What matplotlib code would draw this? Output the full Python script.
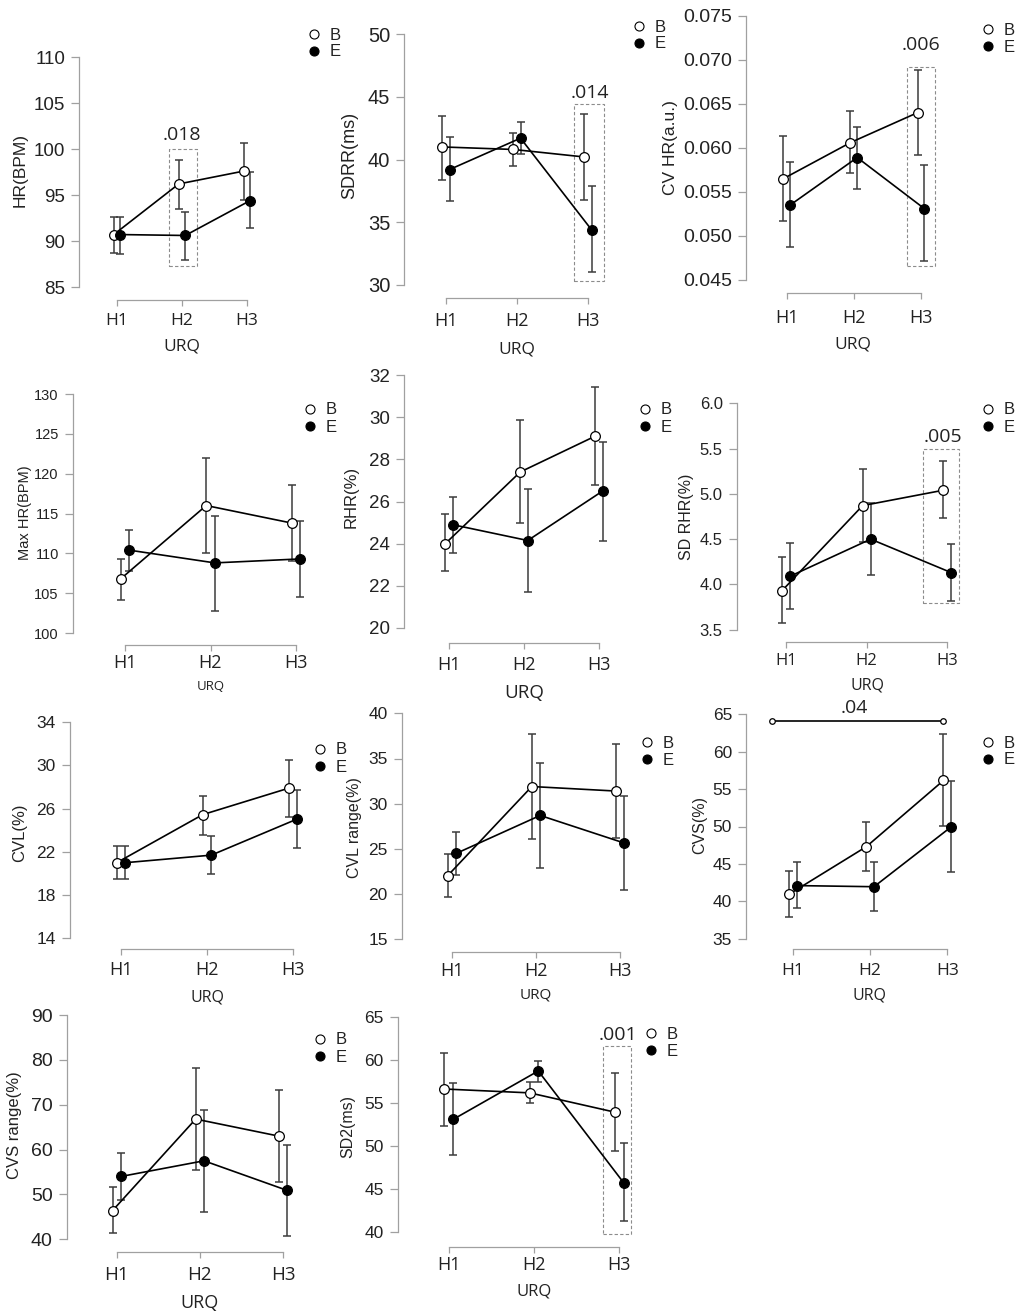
import matplotlib.pyplot as plt
from matplotlib.lines import Line2D
from matplotlib.patches import Rectangle

W, H = 1015, 1311
fig = plt.figure(figsize=(W / 100, H / 100), dpi=100)

phases = ['H1', 'H2', 'H3']

# HR
hr_b = [90.7, 96.2, 97.6]
hr_b_lo = [88.7, 93.5, 94.5]
hr_b_hi = [92.6, 98.8, 100.7]
hr_e = [90.7, 90.6, 94.4]
hr_e_lo = [88.6, 87.9, 91.4]
hr_e_hi = [92.6, 93.2, 97.5]

# SDRR
sdrr_b = [41.0, 40.8, 40.2]
sdrr_b_lo = [38.4, 39.5, 36.8]
sdrr_b_hi = [43.5, 42.1, 43.6]
sdrr_e = [39.2, 41.7, 34.4]
sdrr_e_lo = [36.7, 40.4, 31.0]
sdrr_e_hi = [41.8, 43.0, 37.9]

# CV HR
cvhr_b = [0.0565, 0.0606, 0.0640]
cvhr_b_lo = [0.0517, 0.0571, 0.0592]
cvhr_b_hi = [0.0614, 0.0642, 0.0688]
cvhr_e = [0.0535, 0.0589, 0.0531]
cvhr_e_lo = [0.0488, 0.0553, 0.0472]
cvhr_e_hi = [0.0584, 0.0624, 0.0581]

# Max HR
maxhr_b = [106.8, 116.0, 113.8]
maxhr_b_lo = [104.2, 110.0, 109.0]
maxhr_b_hi = [109.3, 122.0, 118.6]
maxhr_e = [110.4, 108.8, 109.3]
maxhr_e_lo = [107.8, 102.8, 104.5]
maxhr_e_hi = [112.9, 114.7, 114.0]

# RHR
rhr_b = [24.0, 27.4, 29.1]
rhr_b_lo = [22.7, 25.0, 26.8]
rhr_b_hi = [25.4, 29.85, 31.45]
rhr_e = [24.9, 24.15, 26.5]
rhr_e_lo = [23.55, 21.7, 24.15]
rhr_e_hi = [26.2, 26.6, 28.8]

# SD RHR
sdrhr_b = [3.93, 4.87, 5.04]
sdrhr_b_lo = [3.57, 4.47, 4.73]
sdrhr_b_hi = [4.30, 5.27, 5.36]
sdrhr_e = [4.09, 4.50, 4.13]
sdrhr_e_lo = [3.73, 4.10, 3.82]
sdrhr_e_hi = [4.46, 4.90, 4.45]

# CVL
cvl_b = [21.0, 25.45, 27.9]
cvl_b_lo = [19.5, 23.6, 25.2]
cvl_b_hi = [22.55, 27.2, 30.55]
cvl_e = [21.0, 21.7, 25.05]
cvl_e_lo = [19.5, 19.95, 22.4]
cvl_e_hi = [22.55, 23.5, 27.75]

# CVL range
cvlr_b = [22.05, 31.9, 31.4]
cvlr_b_lo = [19.65, 26.05, 26.2]
cvlr_b_hi = [24.45, 37.7, 36.65]
cvlr_e = [24.5, 28.7, 25.65]
cvlr_e_lo = [22.1, 22.9, 20.5]
cvlr_e_hi = [26.9, 34.55, 30.9]

# CVS
cvs_b = [40.95, 47.3, 56.15]
cvs_b_lo = [37.9, 44.0, 50.1]
cvs_b_hi = [44.05, 50.55, 62.3]
cvs_e = [42.1, 41.95, 49.95]
cvs_e_lo = [39.05, 38.7, 43.95]
cvs_e_hi = [45.2, 45.25, 56.1]

# CVS range
cvsr_b = [46.4, 66.8, 63.0]
cvsr_b_lo = [41.3, 55.45, 52.85]
cvsr_b_hi = [51.7, 78.2, 73.2]
cvsr_e = [54.0, 57.5, 50.9]
cvsr_e_lo = [48.7, 46.1, 40.75]
cvsr_e_hi = [59.25, 68.9, 61.1]

# SD2
sd2_b = [56.65, 56.2, 53.95]
sd2_b_lo = [52.4, 55.0, 49.4]
sd2_b_hi = [60.9, 57.5, 58.55]
sd2_e = [53.1, 58.75, 45.75]
sd2_e_lo = [49.0, 57.5, 41.25]
sd2_e_hi = [57.4, 59.95, 50.35]

panels = [
    dict(ylabel='HR(BPM)', yticks=[85, 90, 95, 100, 105, 110], fmt='%d',
         b=(hr_b, hr_b_lo, hr_b_hi), e=(hr_e, hr_e_lo, hr_e_hi)),
    dict(ylabel='SDRR(ms)', yticks=[30, 35, 40, 45, 50], fmt='%d',
         b=(sdrr_b, sdrr_b_lo, sdrr_b_hi), e=(sdrr_e, sdrr_e_lo, sdrr_e_hi)),
    dict(ylabel='CV HR(a.u.)', yticks=[0.045, 0.050, 0.055, 0.060, 0.065, 0.070, 0.075], fmt='%.3f',
         b=(cvhr_b, cvhr_b_lo, cvhr_b_hi), e=(cvhr_e, cvhr_e_lo, cvhr_e_hi)),
    dict(ylabel='Max HR(BPM)', yticks=[100, 105, 110, 115, 120, 125, 130], fmt='%d',
         b=(maxhr_b, maxhr_b_lo, maxhr_b_hi), e=(maxhr_e, maxhr_e_lo, maxhr_e_hi)),
    dict(ylabel='RHR(%)', yticks=[20, 22, 24, 26, 28, 30, 32], fmt='%d',
         b=(rhr_b, rhr_b_lo, rhr_b_hi), e=(rhr_e, rhr_e_lo, rhr_e_hi)),
    dict(ylabel='SD RHR(%)', yticks=[3.5, 4.0, 4.5, 5.0, 5.5, 6.0], fmt='%.1f',
         b=(sdrhr_b, sdrhr_b_lo, sdrhr_b_hi), e=(sdrhr_e, sdrhr_e_lo, sdrhr_e_hi)),
    dict(ylabel='CVL(%)', yticks=[14, 18, 22, 26, 30, 34], fmt='%d',
         b=(cvl_b, cvl_b_lo, cvl_b_hi), e=(cvl_e, cvl_e_lo, cvl_e_hi)),
    dict(ylabel='CVL range(%)', yticks=[15, 20, 25, 30, 35, 40], fmt='%d',
         b=(cvlr_b, cvlr_b_lo, cvlr_b_hi), e=(cvlr_e, cvlr_e_lo, cvlr_e_hi)),
    dict(ylabel='CVS(%)', yticks=[35, 40, 45, 50, 55, 60, 65], fmt='%d',
         b=(cvs_b, cvs_b_lo, cvs_b_hi), e=(cvs_e, cvs_e_lo, cvs_e_hi)),
    dict(ylabel='CVS range(%)', yticks=[40, 50, 60, 70, 80, 90], fmt='%d',
         b=(cvsr_b, cvsr_b_lo, cvsr_b_hi), e=(cvsr_e, cvsr_e_lo, cvsr_e_hi)),
    dict(ylabel='SD2(ms)', yticks=[40, 45, 50, 55, 60, 65], fmt='%d',
         b=(sd2_b, sd2_b_lo, sd2_b_hi), e=(sd2_e, sd2_e_lo, sd2_e_hi)),
]

# significance boxes: panel, x0, x1, y0, y1, label, label x, label y
boxes = [
    (0, 0.80, 1.23, 87.3, 100.0, '.018', 1.0, 101.5),
    (1, 1.80, 2.225, 30.35, 44.4, '.014', 2.03, 45.3),
    (2, 1.79, 2.21, 0.0466, 0.0692, '.006', 2.0, 0.0717),
    (5, 1.70, 2.14, 3.79, 5.49, '.005', 1.95, 5.63),
    (10, 1.81, 2.14, 39.73, 61.66, '.001', 1.98, 62.94),
]
# bracket in CVS panel
bracket = (8, -0.27, 1.94, 64.1, '.04', 0.80, 65.84)

# pixel layout: y-spine x, top tick y, bottom tick y,
# x-axis y, H1 x, H3 x
layout = [
    (79, 57, 287, 300, 117, 247),
    (404, 34, 285, 298, 446, 588),
    (746, 15.7, 280, 293, 786.7, 921),
    (72.7, 394, 633, 645, 125, 296),
    (404, 375, 628, 643, 449, 599),
    (736.7, 403.3, 629.7, 642, 786, 947.3),
    (69.7, 722.3, 938.3, 949, 121, 293),
    (401.7, 713.3, 939.3, 951.7, 452, 620),
    (746, 714.3, 938.7, 949, 793, 947.3),
    (66.7, 1015, 1239.3, 1251.7, 116.7, 283),
    (397.7, 1017.3, 1232, 1246.7, 448.7, 619.3),
]
# legend: marker x, B y, E y
legend_pos = [
    (314, 35, 52), (639, 26, 45), (988, 29, 49),
    (310, 409, 428), (645, 409, 428), (988, 409, 428),
    (320, 749, 768), (647, 742, 762), (988, 742, 761),
    (320, 1039, 1058), (651, 1033, 1053),
]
# ylabel (x, y), xtick label center y, URQ (x, y)
ylabel_pos = [(20, 170), (350, 155), (670, 148), (25, 513), (351, 497), (687, 517),
              (20, 833), (355, 828), (700, 825), (15, 1125), (348, 1127)]
xtick_y = [323, 323, 320, 665, 667, 663, 972, 973, 973, 1277, 1267]
urq_pos = [(182, 347), (517, 350), (853, 345), (211, 686), (524, 693), (867, 685),
           (207, 997), (536, 995), (870, 995), (200, 1303), (534, 1292)]
# font sizes: y ticks, x ticks, URQ, ylabel
sizes = [
    (13.5, 12.5, 12.5, 12.5), (14.5, 13, 12.5, 13), (14, 13, 12.5, 12.5),
    (10.5, 13, 9.5, 10.5), (13.5, 13, 13.5, 12), (12, 12, 11.5, 11.5),
    (12.5, 13, 11.5, 12), (12.5, 13, 11, 11.5), (12.5, 12.5, 11.5, 11.5),
    (14, 13.5, 13, 12), (12.5, 13, 12, 11.5),
]

YFONT = 'Liberation Sans'
XFONT = 'Open Sans'
GREY = '#a0a0a0'
TXT = '#222222'
dodge = 0.05


def fx(x):
    return x / W


def fy(y):
    return 1 - y / H


axes = []
for i, p in enumerate(panels):
    sx, yt, yb, xa, h1, h3 = layout[i]
    ys, xs, us, ls = sizes[i]
    u = 2 / (h3 - h1)
    right = h3 + 30
    ax = fig.add_axes([fx(sx), fy(yb), (right - sx) / W, (yb - yt) / H])
    ax.patch.set_visible(False)
    ax.set_xlim(-(h1 - sx) * u, 2 + 30 * u)
    ax.set_ylim(p['yticks'][0], p['yticks'][-1])

    for s in ['top', 'right']:
        ax.spines[s].set_visible(False)
    for s in ['left', 'bottom']:
        ax.spines[s].set_color(GREY)
        ax.spines[s].set_linewidth(0.9)
    ax.spines['bottom'].set_position(('outward', (xa - yb) * 0.72))
    ax.spines['bottom'].set_bounds(0, 2)
    ax.spines['left'].set_bounds(p['yticks'][0], p['yticks'][-1])

    ax.set_yticks(p['yticks'])
    ax.set_yticklabels([p['fmt'] % v for v in p['yticks']], fontfamily=YFONT)
    ax.tick_params(axis='y', length=6, width=0.9, color=GREY, pad=4,
                   labelsize=ys, labelcolor=TXT)

    xs_px = xs * 100 / 72
    xpad = (xtick_y[i] - xa - 5 - 0.62 * xs_px) * 0.72
    ax.set_xticks([0, 1, 2])
    ax.set_xticklabels(phases, fontfamily=XFONT)
    ax.tick_params(axis='x', length=4, width=0.9, color=GREY, pad=xpad,
                   labelsize=xs, labelcolor=TXT)

    x = [0, 1, 2]
    for key, off, face in [('b', -dodge, 'white'), ('e', dodge, 'black')]:
        m, lo, hi = p[key]
        xx = [v + off for v in x]
        ax.errorbar(xx, m, yerr=[[a - b for a, b in zip(m, lo)], [b - a for a, b in zip(m, hi)]],
                    fmt='none', ecolor='#3c3c3c', elinewidth=1.1, capsize=3, capthick=1.1,
                    zorder=2, clip_on=False)
        ax.plot(xx, m, color='black', lw=1.2, zorder=3, clip_on=False)
        ax.plot(xx, m, ls='none', marker='o', ms=7, mfc=face, mec='black', mew=0.9,
                zorder=4, clip_on=False)

    fig.text(fx(ylabel_pos[i][0]), fy(ylabel_pos[i][1]), p['ylabel'], rotation=90,
             ha='center', va='center', fontsize=ls, fontfamily=YFONT, color=TXT)
    fig.text(fx(urq_pos[i][0]), fy(urq_pos[i][1]), 'URQ', ha='center', va='center',
             fontsize=us, fontfamily=XFONT, color=TXT)

    lx, by, ey = legend_pos[i]
    handles = [Line2D([], [], ls='none', marker='o', ms=6.5, mfc='white', mec='black', mew=0.8),
               Line2D([], [], ls='none', marker='o', ms=6.5, mfc='black', mec='black', mew=0.8)]
    ax.legend(handles, ['B', 'E'], loc='center left',
              bbox_to_anchor=(fx(lx - 5.6), fy((by + ey) / 2)), bbox_transform=fig.transFigure,
              frameon=False, handlelength=0.7, handletextpad=0.55, labelspacing=0.12,
              borderpad=0, borderaxespad=0, prop={'family': YFONT, 'size': 12},
              labelcolor=TXT)
    axes.append(ax)

for k, x0, x1, y0, y1, lab, tx, ty in boxes:
    ax = axes[k]
    ax.add_patch(Rectangle((x0, y0), x1 - x0, y1 - y0, fill=False, ls=(0, (3, 2)),
                           lw=0.8, ec='#8c8c8c', zorder=1, clip_on=False))
    ax.text(tx, ty, lab, ha='center', va='center', fontsize=14, fontfamily=XFONT,
            color=TXT, clip_on=False)

k, x0, x1, yb_, lab, tx, ty = bracket
ax = axes[k]
ax.plot([x0, x1], [yb_, yb_], color='black', lw=1.2, clip_on=False, zorder=3)
ax.plot([x0, x1], [yb_, yb_], ls='none', marker='o', ms=4, mfc='white', mec='black',
        mew=0.9, clip_on=False, zorder=4)
ax.text(tx, ty, lab, ha='center', va='center', fontsize=14, fontfamily=XFONT,
        color=TXT, clip_on=False)

fig.savefig('out.png', dpi=100)
